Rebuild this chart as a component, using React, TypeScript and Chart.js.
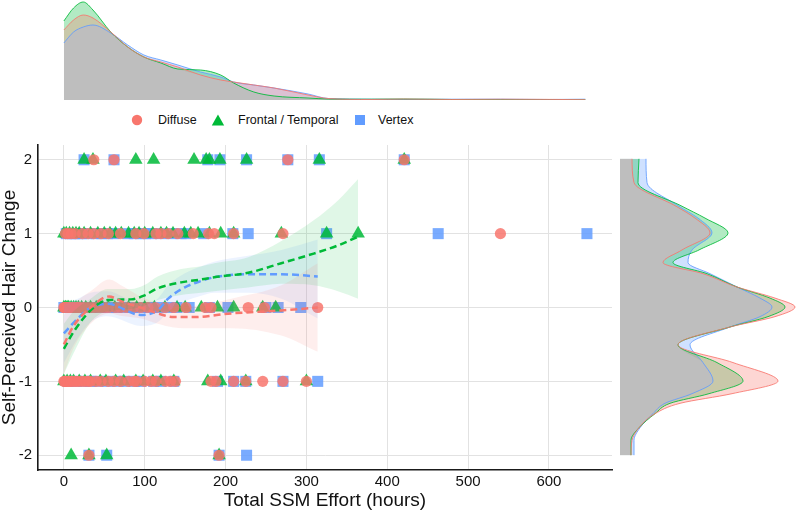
import React, { useEffect, useRef } from "react";
import { Chart, registerables } from "chart.js";
Chart.register(...registerables);

const FONT = "'Liberation Sans', Arial, Helvetica, sans-serif";
Chart.defaults.font.family = FONT;

// ---------- categories / styling keys ----------
const groups = ["Diffuse", "Frontal / Temporal", "Vertex"];
const groupColors = ["#F8766D", "#00BA38", "#619CFF"];
const groupRGB = ["248,118,109", "0,186,56", "97,156,255"];
const groupShapes = ["circle", "triangle", "rect"];
const groupRadius = [5.6, 7.8, 7.8];

// ---------- axes ----------
const xTicks = [0, 100, 200, 300, 400, 500, 600];
const yTicks = [-2, -1, 0, 1, 2];
const xTitle = "Total SSM Effort (hours)";
const yTitle = "Self-Perceived Hair Change";

// ---------- scatter data: hours per hair-change level ----------
const diffuseAt2 = [37, 62, 277, 421];
const diffuseAt1 = [2, 5, 9, 14, 23, 30, 37, 46, 55, 70, 89, 99, 114, 120, 129, 141, 160, 179, 186, 210, 271, 540];
const diffuseAt0 = [0, 1, 2, 3, 4, 5, 6, 8, 10, 12, 14, 16, 18, 20, 24, 28, 32, 36, 40, 45, 50, 55, 64, 70, 78, 86, 95, 104, 113, 125, 136, 151, 175, 182, 228, 248, 314];
const diffuseAtM1 = [0, 1, 2, 3, 5, 7, 9, 12, 15, 18, 22, 26, 30, 33, 40, 46, 55, 62, 70, 80, 87, 90, 100, 108, 114, 126, 132, 138, 182, 188, 210, 225, 246, 271, 300];
const diffuseAtM2 = [31, 192];

const frontalAt2 = [25, 36, 89, 111, 161, 176, 180, 193, 226, 316, 421];
const frontalAt1 = [0, 3, 7, 11, 15, 19, 25, 33, 42, 50, 57, 64, 71, 80, 87, 93, 100, 110, 120, 127, 135, 149, 157, 166, 180, 194, 210, 269, 325, 364];
const frontalAt0 = [0, 2, 4, 6, 9, 12, 15, 18, 22, 27, 33, 40, 48, 55, 63, 72, 80, 90, 100, 112, 125, 140, 150, 170, 190, 210, 246, 262];
const frontalAtM1 = [0, 4, 8, 12, 19, 26, 33, 45, 52, 64, 74, 89, 98, 110, 120, 136, 178, 194, 225, 300];
const frontalAtM2 = [9, 31, 53, 192];

const vertexAt2 = [25, 62, 178, 193, 226, 277, 316, 421];
const vertexAt1 = [3, 8, 13, 17, 22, 30, 40, 47, 54, 62, 79, 87, 95, 101, 108, 120, 133, 145, 151, 173, 209, 228, 325, 463, 647];
const vertexAt0 = [0, 5, 10, 15, 20, 28, 35, 45, 55, 65, 75, 85, 95, 105, 115, 128, 140, 155, 180, 203, 250, 265, 293];
const vertexAtM1 = [5, 15, 25, 33, 42, 54, 67, 75, 87, 95, 111, 120, 136, 190, 210, 225, 271, 314];
const vertexAtM2 = [31, 53, 192, 226];

// ---------- smoothed fits (loess) with confidence band ----------
const diffuseFitX = [0, 12, 33, 56, 74, 95, 116, 136, 161, 207, 269, 314];
const diffuseFitY = [-0.5, -0.25, 0, 0.15, 0.07, 0, -0.08, -0.13, -0.13, -0.08, -0.04, 0.0];
const diffuseLo = [-0.9, -0.55, -0.22, -0.08, -0.12, -0.15, -0.22, -0.27, -0.28, -0.28, -0.38, -0.6];
const diffuseHi = [-0.1, 0.05, 0.22, 0.38, 0.28, 0.15, 0.06, 0.01, 0.02, 0.12, 0.3, 0.6];

const frontalFitX = [0, 12, 33, 54, 83, 99, 116, 145, 170, 186, 228, 269, 309, 339, 364];
const frontalFitY = [-0.56, -0.33, -0.04, 0.1, 0.11, 0.16, 0.26, 0.34, 0.38, 0.41, 0.47, 0.6, 0.73, 0.84, 0.96];
const frontalLo = [-0.9, -0.62, -0.2, -0.05, -0.02, 0.02, 0.1, 0.17, 0.2, 0.22, 0.27, 0.32, 0.3, 0.22, 0.12];
const frontalHi = [-0.22, -0.05, 0.12, 0.25, 0.25, 0.3, 0.42, 0.52, 0.56, 0.6, 0.68, 0.9, 1.18, 1.45, 1.74];

const vertexFitX = [0, 17, 33, 54, 95, 116, 129, 149, 170, 186, 228, 269, 314];
const vertexFitY = [-0.35, -0.15, 0, 0.05, -0.1, -0.04, 0.12, 0.27, 0.36, 0.41, 0.45, 0.45, 0.42];
const vertexLo = [-0.75, -0.42, -0.2, -0.12, -0.25, -0.2, -0.06, 0.08, 0.16, 0.2, 0.2, 0.12, -0.15];
const vertexHi = [0.05, 0.12, 0.2, 0.22, 0.05, 0.12, 0.3, 0.46, 0.56, 0.62, 0.7, 0.78, 0.92];

// ---------- top marginal density (hours) ----------
const topDensX = [0, 12, 24, 36, 58, 79, 99, 120, 141, 169, 194, 210, 235, 260, 302, 327, 380, 420, 480, 540, 600, 645];
const topDensDiffuse = [0.7, 0.8, 0.85, 0.82, 0.68, 0.53, 0.43, 0.38, 0.33, 0.25, 0.2, 0.18, 0.15, 0.12, 0.05, 0.015, 0.005, 0.01, 0.005, 0.008, 0.006, 0.003];
const topDensFrontal = [0.79, 0.92, 0.98, 0.9, 0.68, 0.53, 0.43, 0.37, 0.31, 0.3, 0.25, 0.17, 0.08, 0.04, 0.02, 0.01, 0.008, 0.01, 0.005, 0.003, 0.002, 0.002];
const topDensVertex = [0.57, 0.68, 0.73, 0.75, 0.67, 0.55, 0.45, 0.4, 0.35, 0.28, 0.23, 0.18, 0.15, 0.12, 0.06, 0.015, 0.008, 0.006, 0.008, 0.008, 0.005, 0.008];

// ---------- right marginal density (hair change) ----------
const rightDensY = [-2.0, -1.8, -1.63, -1.44, -1.3, -1.17, -1.0, -0.75, -0.51, -0.27, -0.13, 0, 0.12, 0.27, 0.45, 0.6, 0.77, 1.0, 1.2, 1.36, 1.68, 2.0];
const rightDensDiffuse = [0.11, 0.12, 0.19, 0.35, 0.6, 1.12, 1.58, 1.13, 0.58, 1.1, 1.55, 1.75, 1.55, 1.17, 0.83, 0.43, 0.62, 0.9, 0.75, 0.56, 0.14, 0.12];
const rightDensFrontal = [0.11, 0.11, 0.19, 0.35, 0.5, 0.89, 1.23, 0.97, 0.58, 1.1, 1.48, 1.65, 1.5, 1.17, 0.87, 0.53, 0.79, 1.08, 0.85, 0.62, 0.18, 0.19];
const rightDensVertex = [0.14, 0.14, 0.2, 0.33, 0.45, 0.72, 0.93, 0.83, 0.7, 1.1, 1.4, 1.52, 1.4, 1.17, 0.9, 0.68, 0.72, 0.92, 0.78, 0.59, 0.27, 0.26];

// ---------- layout ----------
const X_MIN = -32;
const X_MAX = 678;
const Y_MIN = -2.2;
const Y_MAX = 2.2;
const OVERLAP_GREY = "rgb(190,190,190)";

const scatterSets = [
  [diffuseAt2, diffuseAt1, diffuseAt0, diffuseAtM1, diffuseAtM2],
  [frontalAt2, frontalAt1, frontalAt0, frontalAtM1, frontalAtM2],
  [vertexAt2, vertexAt1, vertexAt0, vertexAtM1, vertexAtM2],
];
const levels = [2, 1, 0, -1, -2];
const fits = [
  [diffuseFitX, diffuseFitY, diffuseLo, diffuseHi],
  [frontalFitX, frontalFitY, frontalLo, frontalHi],
  [vertexFitX, vertexFitY, vertexLo, vertexHi],
];
const topDens = [topDensDiffuse, topDensFrontal, topDensVertex];
const rightDens = [rightDensDiffuse, rightDensFrontal, rightDensVertex];

function mainConfig(): any {
  const datasets: any[] = [];
  // smoothed dashed lines (on top)
  fits.forEach(([fx, fy], g) => {
    datasets.push({
      label: groups[g] + " fit",
      data: fx.map((x, i) => ({ x, y: fy[i] })),
      borderColor: groupColors[g],
      borderWidth: 2.5,
      borderDash: [7, 4],
      pointRadius: 0,
      fill: false,
      showLine: true,
      cubicInterpolationMode: "monotone",
      order: 0,
    });
  });
  // confidence bands
  fits.forEach(([fx, , lo, hi], g) => {
    datasets.push({
      label: groups[g] + " upper",
      data: fx.map((x, i) => ({ x, y: hi[i] })),
      borderWidth: 0,
      borderColor: "rgba(0,0,0,0)",
      pointRadius: 0,
      fill: false,
      showLine: true,
      cubicInterpolationMode: "monotone",
      order: 1,
    });
    datasets.push({
      label: groups[g] + " lower",
      data: fx.map((x, i) => ({ x, y: lo[i] })),
      borderWidth: 0,
      borderColor: "rgba(0,0,0,0)",
      backgroundColor: `rgba(${groupRGB[g]},0.12)`,
      pointRadius: 0,
      fill: "-1",
      showLine: true,
      cubicInterpolationMode: "monotone",
      order: 1,
    });
  });
  // points
  scatterSets.forEach((sets, g) => {
    const pts: any[] = [];
    sets.forEach((xs, li) => xs.forEach((x) => pts.push({ x, y: levels[li] })));
    datasets.push({
      label: groups[g],
      data: pts,
      showLine: false,
      pointStyle: groupShapes[g],
      pointRadius: groupRadius[g],
      pointBackgroundColor: `rgba(${groupRGB[g]},0.85)`,
      pointBorderWidth: 0,
      pointBorderColor: "rgba(0,0,0,0)",
      order: 2,
    });
  });

  return {
    type: "line",
    data: { datasets },
    options: {
      animation: false,
      responsive: false,
      devicePixelRatio: 1,
      events: [],
      layout: { padding: { top: 14, right: 8, left: 0, bottom: 0 } },
      plugins: { legend: { display: false }, tooltip: { enabled: false } },
      scales: {
        x: {
          type: "linear",
          min: X_MIN,
          max: X_MAX,
          afterBuildTicks: (s: any) => {
            s.ticks = xTicks.map((v) => ({ value: v }));
          },
          afterFit: (s: any) => {
            s.height = 44;
          },
          grid: { color: "#e2e2e2", lineWidth: 1, drawTicks: false },
          border: { display: true, color: "#1a1a1a", width: 1.6 },
          ticks: { padding: 3, color: "#111", font: { size: 15, family: FONT }, maxRotation: 0 },
          title: {
            display: true,
            text: xTitle,
            color: "#111",
            font: { size: 19, family: FONT },
            padding: { top: 0, bottom: 2 },
          },
        },
        y: {
          type: "linear",
          min: Y_MIN,
          max: Y_MAX,
          afterBuildTicks: (s: any) => {
            s.ticks = yTicks.map((v) => ({ value: v }));
          },
          afterFit: (s: any) => {
            s.width = 38;
          },
          grid: { color: "#e2e2e2", lineWidth: 1, drawTicks: false },
          border: { display: true, color: "#1a1a1a", width: 1.6 },
          ticks: { padding: 6, color: "#111", font: { size: 15, family: FONT } },
          title: {
            display: true,
            text: yTitle,
            color: "#111",
            font: { size: 19, family: FONT, lineHeight: 1 },
            padding: { top: 0, bottom: 0 },
          },
        },
      },
    },
  };
}

function densityDatasets(dens: number[][], grid: number[], horizontal: boolean): any[] {
  const mk = (vals: number[]) =>
    vals.map((v, i) => (horizontal ? { x: v, y: grid[i] } : { x: grid[i], y: v }));
  const common = grid.map((_, i) => Math.min(dens[0][i], dens[1][i], dens[2][i]));
  const ds: any[] = [];
  // outlines (top)
  dens.forEach((d, g) => {
    ds.push({
      label: groups[g] + " density line",
      data: mk(d),
      borderColor: `rgba(${groupRGB[g]},0.85)`,
      borderWidth: 1,
      pointRadius: 0,
      fill: false,
      cubicInterpolationMode: "monotone",
      order: 0,
    });
  });
  // common overlap (grey)
  ds.push({
    label: "overlap",
    data: mk(common),
    borderWidth: 0,
    borderColor: "rgba(0,0,0,0)",
    backgroundColor: OVERLAP_GREY,
    pointRadius: 0,
    fill: "origin",
    cubicInterpolationMode: "monotone",
    order: 1,
  });
  // colored fills (bottom)
  dens.forEach((d, g) => {
    ds.push({
      label: groups[g] + " density",
      data: mk(d),
      borderWidth: 0,
      borderColor: "rgba(0,0,0,0)",
      backgroundColor: `rgba(${groupRGB[g]},0.3)`,
      pointRadius: 0,
      fill: "origin",
      cubicInterpolationMode: "monotone",
      order: 2 + g,
    });
  });
  return ds;
}

function topConfig(): any {
  return {
    type: "line",
    data: { datasets: densityDatasets(topDens, topDensX, false) },
    options: {
      animation: false,
      responsive: false,
      devicePixelRatio: 1,
      events: [],
      layout: { padding: { top: 0, right: 8, left: 38, bottom: 0 } },
      plugins: { legend: { display: false }, tooltip: { enabled: false } },
      scales: {
        x: { type: "linear", display: false, min: X_MIN, max: X_MAX },
        y: { type: "linear", display: false, min: 0, max: 1.0 },
      },
    },
  };
}

function rightConfig(): any {
  return {
    type: "line",
    data: { datasets: densityDatasets(rightDens, rightDensY, true) },
    options: {
      indexAxis: "y",
      animation: false,
      responsive: false,
      devicePixelRatio: 1,
      events: [],
      layout: { padding: { top: 14, right: 0, left: 0, bottom: 44 } },
      plugins: { legend: { display: false }, tooltip: { enabled: false } },
      scales: {
        y: { type: "linear", display: false, min: Y_MIN, max: Y_MAX },
        x: { type: "linear", display: false, min: 0, max: 1.77 },
      },
    },
  };
}

function LegendMarker({ g }: { g: number }) {
  const c = groupColors[g];
  return (
    <svg width={14} height={14} style={{ display: "block" }}>
      {g === 0 && <circle cx={7} cy={7} r={5.2} fill={c} />}
      {g === 1 && <polygon points="0.8,12.6 13.2,12.6 7,1.6" fill={c} />}
      {g === 2 && <rect x={2} y={2} width={10} height={10} fill={c} />}
    </svg>
  );
}

const legendMarkerX = [137, 218, 360];
const legendTextX = [158, 238, 378];

export default function App() {
  const topRef = useRef<HTMLCanvasElement>(null);
  const mainRef = useRef<HTMLCanvasElement>(null);
  const rightRef = useRef<HTMLCanvasElement>(null);

  useEffect(() => {
    const charts = [
      new Chart(topRef.current as HTMLCanvasElement, topConfig()),
      new Chart(mainRef.current as HTMLCanvasElement, mainConfig()),
      new Chart(rightRef.current as HTMLCanvasElement, rightConfig()),
    ];
    return () => charts.forEach((c) => c.destroy());
  }, []);

  return (
    <div
      style={{
        position: "fixed",
        left: 0,
        top: 0,
        width: 797,
        height: 514,
        background: "#fff",
        overflow: "hidden",
        fontFamily: FONT,
      }}
    >
      <canvas ref={topRef} width={620} height={100} style={{ position: "absolute", left: 0, top: 0, width: 620, height: 100 }} />
      <canvas ref={mainRef} width={620} height={384} style={{ position: "absolute", left: 0, top: 130, width: 620, height: 384 }} />
      <canvas ref={rightRef} width={177} height={384} style={{ position: "absolute", left: 620, top: 130, width: 177, height: 384 }} />
      {groups.map((name, g) => (
        <React.Fragment key={name}>
          <div style={{ position: "absolute", left: legendMarkerX[g] - 7, top: 113 }}>
            <LegendMarker g={g} />
          </div>
          <div
            style={{
              position: "absolute",
              left: legendTextX[g],
              top: 112,
              fontSize: 12.5,
              lineHeight: "16px",
              color: "#111",
              whiteSpace: "nowrap",
            }}
          >
            {name}
          </div>
        </React.Fragment>
      ))}
    </div>
  );
}
